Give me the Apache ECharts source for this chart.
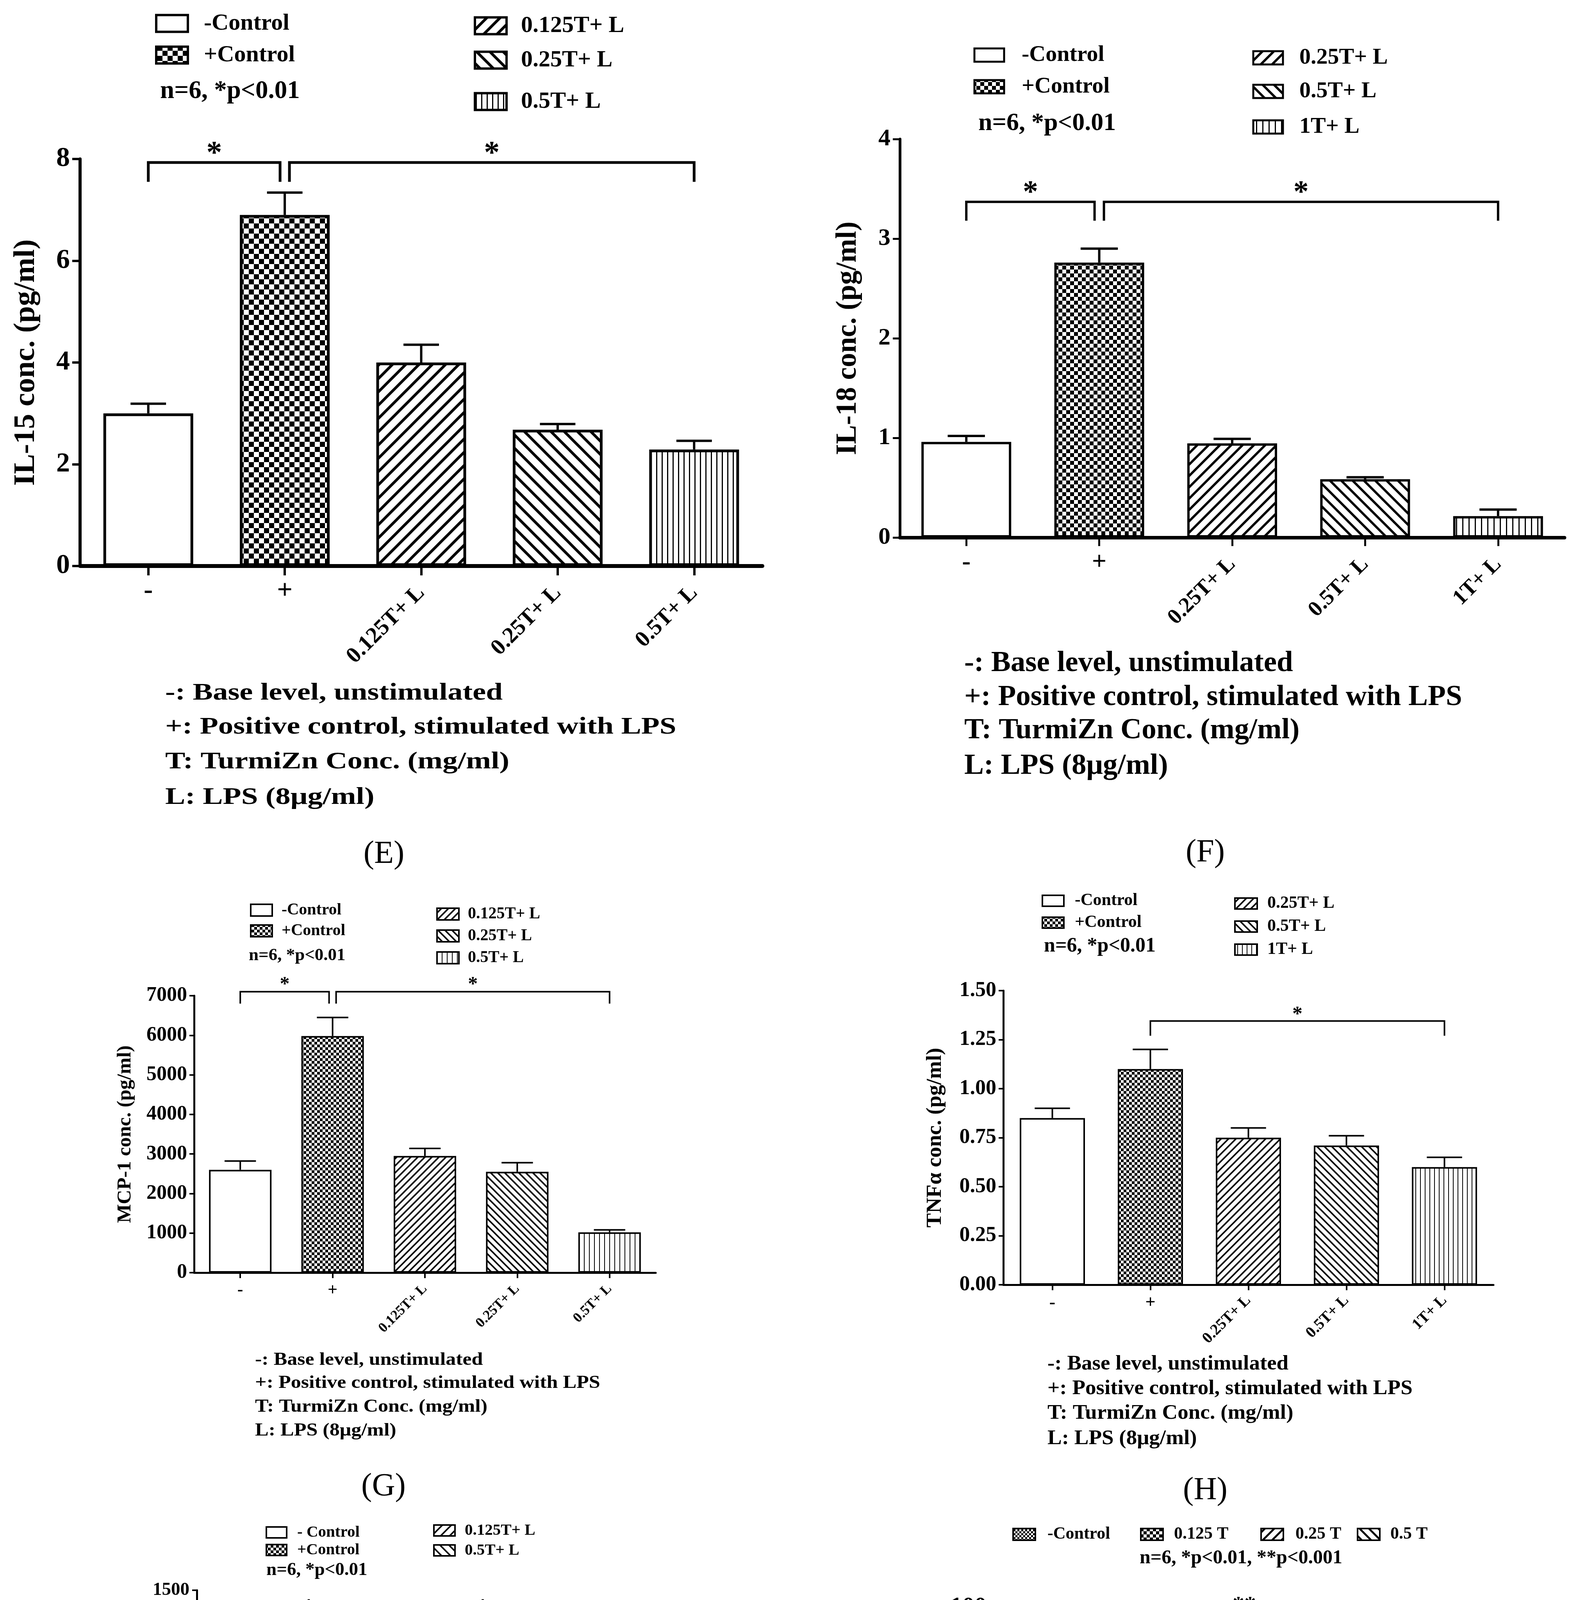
<!DOCTYPE html>
<html><head><meta charset="utf-8">
<script src="https://cdn.jsdelivr.net/npm/echarts@6/dist/echarts.min.js"></script>
<style>html,body{margin:0;padding:0;background:#fff}#c{width:4043px;height:5373px}</style>
</head><body><div id="c"></div>
<script>
// ---------------- DATA ----------------
const catE = ['-', '+', '0.125T+ L', '0.25T+ L', '0.5T+ L'];
const valE = [3.0, 6.9, 4.0, 2.68, 2.29];
const errE = [0.19, 0.44, 0.35, 0.11, 0.17];
const brE = [[0, 1, 7.93, 7.55], [1, 4, 7.93, 7.55]];
const starE = ['*', '*'];
const legE = ['-Control', '+Control', '0.125T+ L', '0.25T+ L', '0.5T+ L'];

const catF = ['-', '+', '0.25T+ L', '0.5T+ L', '1T+ L'];
const valF = [0.96, 2.76, 0.945, 0.585, 0.215];
const errF = [0.06, 0.14, 0.045, 0.02, 0.065];
const brF = [[0, 1, 3.37, 3.18], [1, 4, 3.37, 3.18]];
const starF = ['*', '*'];
const legF = ['-Control', '+Control', '0.25T+ L', '0.5T+ L', '1T+ L'];

const catG = ['-', '+', '0.125T+ L', '0.25T+ L', '0.5T+ L'];
const valG = [2600, 5980, 2950, 2550, 1020];
const errG = [220, 470, 190, 230, 60];
const brG = [[0, 1, 7100, 6800], [1, 4, 7100, 6800]];
const starG = ['*', '*'];
const legG = ['-Control', '+Control', '0.125T+ L', '0.25T+ L', '0.5T+ L'];

const catH = ['-', '+', '0.25T+ L', '0.5T+ L', '1T+ L'];
const valH = [0.85, 1.10, 0.75, 0.71, 0.60];
const errH = [0.05, 0.10, 0.05, 0.05, 0.05];
const brH = [[1, 4, 1.345, 1.27]];
const starH = ['*'];
const legH = ['-Control', '+Control', '0.25T+ L', '0.5T+ L', '1T+ L'];

const catI = ['-', '+', '0.125T+ L', '0.5T+ L'];
const valI = [705, 1155, 345, 168];
const errI = [58, 95, 22, 12];
const brI = [[0, 1, 1369, 1300], [1, 3, 1369, 1300]];
const starI = ['*', '*'];
const legI = ['- Control', '+Control', '0.125T+ L', '0.5T+ L'];

const catJ = ['-', '0.125 T', '0.25 T', '0.5 T'];
const valJ = [0, 36.5, 36.2, 83.3];
const errJ = [0, 2.2, 2.6, 5.7];
const brJ = [[0, 3, 97.7, 93.3], [0, 1, 51.8, 47.4]];
const starJ = ['**', '*'];
const legJ = ['-Control', '0.125 T', '0.25 T', '0.5 T'];

const stat1 = 'n=6, *p<0.01';
const statJ = 'n=6, *p<0.01, **p<0.001';
const notesLPS = ['-: Base level, unstimulated', '+: Positive control, stimulated with LPS', 'T: TurmiZn Conc. (mg/ml)', 'L: LPS (8μg/ml)'];
const notesJ = ['-: Base level, unstimulated', 'T: TurmiZn Conc. (mg/ml)'];
const panelLabels = ['(E)', '(F)', '(G)', '(H)', '(I)', '(J)'];

// ---------------- STYLE HELPERS ----------------
const FONT = '"Liberation Serif", "Times New Roman", serif';
function cv(w, h) { const c = document.createElement('canvas'); c.width = w; c.height = h; const x = c.getContext('2d'); x.fillStyle = '#fff'; x.fillRect(0, 0, w, h); x.fillStyle = '#000'; x.strokeStyle = '#000'; return [c, x]; }
function checker(s) { const [c, x] = cv(2 * s, 2 * s); x.fillRect(0, 0, s, s); x.fillRect(s, s, s, s); return { image: c, repeat: 'repeat' }; }
function diag(s, lw, dir) {
  const [c, x] = cv(s, s); x.lineWidth = lw;
  for (let k = -1; k <= 2; k++) {
    const cc = k * s; x.beginPath();
    if (dir === '/') { x.moveTo(cc - 2 * s, 2 * s); x.lineTo(cc + 2 * s, -2 * s); }
    else { x.moveTo(-2 * s, cc - 2 * s); x.lineTo(3 * s, cc + 3 * s); }
    x.stroke();
  }
  return { image: c, repeat: 'repeat' };
}
function vert(s, lw) { const [c, x] = cv(s, 8); x.fillRect(0, 0, lw, 8); return { image: c, repeat: 'repeat' }; }
function pats(p) { return { white: '#fff', checker: checker(p.ck), diagR: diag(p.ds, p.dw, '/'), diagL: diag(p.ds, p.dw, '\\'), vert: vert(p.vs, p.vw), checkerS: checker(5) }; }

const panels = [
  { cats: catE, vals: valE, errs: errE, br: brE, stars: starE, leg: legE, notes: notesLPS, keys: ['white', 'checker', 'diagR', 'diagL', 'vert'],
    ymax: 8, iv: 2, dec: 0, title: 'IL-15 conc. (pg/ml)',
    grid: { left: 205, top: 407, width: 1747, height: 1042 }, barW: 230, axW: 10, yAxW: 8, tl: 24, ytl: 20, tw: 6,
    fTick: 70, fTitle: 77, fXl: 58, fPm: 70, fStar: 80, fLeg: 60, fStat: 65, fNote: 77, nSY: 0.8, gap: 99, ym: 26, xm1: 30, xm2: 60,
    cap: 0.26, ew: 6, bw: 7, sOff: 38, bGap: 12, p: { ck: 13, ds: 34, dw: 7, vs: 14, vw: 3 },
    legend: { c1x: 400, c1w: 81, c2x: 1216, c2w: 81, h: 43, y1: [60, 141], y2: [66, 154, 260], t1: 522, t2: 1334, sx: 410, sy: 234, lw: 6 },
    note: { x: 423, y: [1775, 1862, 1951, 2042] }, lab: [983, 2187] },
  { cats: catF, vals: valF, errs: errF, br: brF, stars: starF, leg: legF, notes: notesLPS, keys: ['white', 'checker', 'diagR', 'diagL', 'vert'],
    ymax: 4, iv: 1, dec: 0, title: 'IL-18 conc. (pg/ml)',
    grid: { left: 2304, top: 356, width: 1702, height: 1020 }, barW: 230, axW: 9, yAxW: 7, tl: 22, ytl: 18, tw: 5,
    fTick: 62, fTitle: 73, fXl: 56, fPm: 66, fStar: 78, fLeg: 58, fStat: 64, fNote: 75, nSY: 1, gap: 95, ym: 24, xm1: 32, xm2: 60,
    cap: 0.28, ew: 6, bw: 6, sOff: 39, bGap: 12, p: { ck: 10, ds: 29, dw: 6, vs: 16, vw: 3 },
    legend: { c1x: 2495, c1w: 76, c2x: 3209, c2w: 76, h: 34, y1: [141, 222], y2: [148, 234, 325], t1: 2616, t2: 3327, sx: 2505, sy: 316, lw: 5 },
    note: { x: 2469, y: [1699, 1786, 1871, 1962] }, lab: [3086, 2183] },
  { cats: catG, vals: valG, errs: errG, br: brG, stars: starG, leg: legG, notes: notesLPS, keys: ['white', 'checker', 'diagR', 'diagL', 'vert'],
    ymax: 7000, iv: 1000, dec: 0, title: 'MCP-1 conc. (pg/ml)',
    grid: { left: 497, top: 2549, width: 1182, height: 709 }, barW: 160, axW: 5, yAxW: 5, tl: 14, ytl: 12, tw: 4,
    fTick: 52, fTitle: 51, fXl: 36, fPm: 44, fStar: 50, fLeg: 42, fStat: 45, fNote: 52, nSY: 0.9, gap: 151, ym: 18, xm1: 24, xm2: 36,
    cap: 0.34, ew: 4, bw: 4, sOff: 29, bGap: 9, p: { ck: 7, ds: 18, dw: 4, vs: 13, vw: 2 },
    legend: { c1x: 642, c1w: 55, c2x: 1119, c2w: 56, h: 30, y1: [2330, 2383], y2: [2340, 2396, 2452], t1: 721, t2: 1198, sx: 637, sy: 2446, lw: 4 },
    note: { x: 653, y: [3482, 3541, 3602, 3663] }, lab: [982, 3806] },
  { cats: catH, vals: valH, errs: errH, br: brH, stars: starH, leg: legH, notes: notesLPS, keys: ['white', 'checker', 'diagR', 'diagL', 'vert'],
    ymax: 1.5, iv: 0.25, dec: 2, title: 'TNFα conc. (pg/ml)',
    grid: { left: 2569, top: 2536, width: 1255, height: 753 }, barW: 167, axW: 5, yAxW: 5, tl: 14, ytl: 12, tw: 4,
    fTick: 54, fTitle: 55, fXl: 40, fPm: 46, fStar: 52, fLeg: 44, fStat: 52, fNote: 55, nSY: 0.95, gap: 147, ym: 18, xm1: 24, xm2: 34,
    cap: 0.36, ew: 4, bw: 4, sOff: 27, bGap: 9, p: { ck: 7, ds: 19, dw: 4, vs: 12, vw: 2 },
    legend: { c1x: 2669, c1w: 55, c2x: 3162, c2w: 57, h: 28, y1: [2306, 2362], y2: [2313, 2372, 2431], t1: 2752, t2: 3245, sx: 2673, sy: 2423, lw: 4 },
    note: { x: 2682, y: [3493, 3556, 3619, 3684] }, lab: [3086, 3816] },
  { cats: catI, vals: valI, errs: errI, br: brI, stars: starI, leg: legI, notes: notesLPS, keys: ['white', 'checker', 'diagR', 'diagL'],
    ymax: 1500, iv: 300, dec: 0, title: 'KC-like protein conc. (pg/ml)',
    grid: { left: 504, top: 4071, width: 1164, height: 700 }, barW: 196, axW: 5, yAxW: 5, tl: 14, ytl: 12, tw: 4,
    fTick: 47, fTitle: 50, fXl: 38, fPm: 44, fStar: 52, fLeg: 41, fStat: 47, fNote: 51, nSY: 0.95, gap: 143, ym: 19, xm1: 24, xm2: 40,
    cap: 0.33, ew: 4, bw: 4, sOff: 28, bGap: 9, p: { ck: 7, ds: 23, dw: 4, vs: 12, vw: 2 },
    legend: { c1x: 682, c1w: 52, c2x: 1111, c2w: 54, h: 28, y1: [3923, 3968], y2: [3918, 3969], t1: 761, t2: 1190, sx: 682, sy: 4020, lw: 4 },
    note: { x: 634, y: [4984, 5043, 5103, 5166] }, lab: [983, 5292] },
  { cats: catJ, vals: valJ, errs: errJ, br: brJ, stars: starJ, leg: legJ, notes: notesJ, keys: ['white', 'checker', 'diagR', 'diagL'],
    ymax: 100, iv: 20, dec: 0, title: 'GM-CSF conc. (pg/ml)',
    grid: { left: 2546, top: 4114, width: 1280, height: 772 }, barW: 213, axW: 6, yAxW: 6, tl: 16, ytl: 14, tw: 4,
    fTick: 62, fTitle: 56, fXl: 40, fPm: 56, fStar: 60, fLeg: 44, fStat: 50, fNote: 56, nSY: 0.95, gap: 134, ym: 20, xm1: 30, xm2: 42,
    cap: 0.28, ew: 5, bw: 5, sOff: 33, bGap: 0, p: { ck: 8, ds: 24, dw: 5, vs: 12, vw: 2 },
    legendRow: { x: [2594, 2921, 3229, 3476], w: 57, h: 30, y: 3928, tx: [2682, 3006, 3317, 3560], sx: 2918, sy: 3989, lw: 4,
      keys: ['checkerS', 'checker', 'diagR', 'diagL'] },
    note: { x: 2904, y: [5095, 5161] }, lab: [3086, 5294] }
];

// ---------------- BUILD OPTION ----------------
const grids = [], xAxes = [], yAxes = [], series = [], graphic = [];
const isPM = v => v === '-' || v === '+';

panels.forEach((P, i) => {
  const pt = pats(P.p);
  grids.push(Object.assign({ containLabel: false, outerBoundsMode: 'none' }, P.grid));
  const baseX = { type: 'category', gridIndex: i, data: P.cats, position: 'bottom', boundaryGap: true, splitLine: { show: false } };
  xAxes.push(Object.assign({}, baseX, {
    axisLine: { show: true, onZero: false, lineStyle: { color: '#000', width: P.axW } },
    axisTick: { show: true, alignWithLabel: true, length: P.tl, lineStyle: { color: '#000', width: P.tw } },
    axisLabel: { interval: 0, margin: P.xm1, color: '#000', fontFamily: FONT, fontWeight: 'bold', fontSize: P.fPm,
      formatter: v => isPM(v) ? v : '' }
  }));
  xAxes.push(Object.assign({}, baseX, {
    axisLine: { show: false }, axisTick: { show: false },
    axisLabel: { interval: 0, rotate: 45, margin: P.xm2, color: '#000', fontFamily: FONT, fontWeight: 'bold', fontSize: P.fXl,
      formatter: v => isPM(v) ? '' : v }
  }));
  yAxes.push({
    type: 'value', gridIndex: i, min: 0, max: P.ymax, interval: P.iv,
    name: P.title, nameLocation: 'middle', nameRotate: 90, nameGap: P.gap,
    nameTextStyle: { color: '#000', fontFamily: FONT, fontWeight: 'bold', fontSize: P.fTitle },
    axisLine: { show: true, lineStyle: { color: '#000', width: P.yAxW } },
    axisTick: { show: true, length: P.ytl, lineStyle: { color: '#000', width: P.tw } },
    axisLabel: { margin: P.ym, color: '#000', fontFamily: FONT, fontWeight: 'bold', fontSize: P.fTick,
      formatter: v => Number(v).toFixed(P.dec) },
    splitLine: { show: false }
  });
  series.push({
    type: 'bar', xAxisIndex: 2 * i, yAxisIndex: i, barWidth: P.barW, silent: true, animation: false,
    data: P.vals.map((v, k) => ({ value: v, itemStyle: { color: pt[P.keys[k]], borderColor: '#000', borderWidth: P.bw } }))
  });
  series.push({
    type: 'custom', xAxisIndex: 2 * i, yAxisIndex: i, silent: true, animation: false, clip: false, z: 3,
    data: P.vals.map((v, k) => [k, v, P.errs[k]]),
    encode: { x: 0, y: 1 },
    renderItem: (params, api) => {
      const k = api.value(0), v = api.value(1), e = api.value(2);
      if (!e) return { type: 'group', children: [] };
      const b = api.coord([k, v]), t = api.coord([k, v + e]);
      const cw = api.size([1, 0])[0] * P.cap;
      const st = { stroke: '#000', lineWidth: P.ew };
      return { type: 'group', children: [
        { type: 'line', shape: { x1: b[0], y1: b[1], x2: t[0], y2: t[1] }, style: st },
        { type: 'line', shape: { x1: t[0] - cw / 2, y1: t[1], x2: t[0] + cw / 2, y2: t[1] }, style: st }
      ] };
    }
  });
  series.push({
    type: 'custom', xAxisIndex: 2 * i, yAxisIndex: i, silent: true, animation: false, clip: false, z: 4,
    data: P.br.map(b => b.slice()),
    encode: { x: [0, 1], y: [2, 3] },
    renderItem: (params, api) => {
      const idx = params.dataIndex;
      const a = api.value(0), bb = api.value(1), yt = api.value(2), yb = api.value(3);
      const pa = api.coord([a, yt]), pb = api.coord([bb, yt]), ybot = api.coord([a, yb])[1];
      let x1 = pa[0], x2 = pb[0];
      if (P.br.some((o, j) => j !== idx && o[1] === a && o[0] !== a)) x1 += P.bGap;
      if (P.br.some((o, j) => j !== idx && o[0] === bb && o[1] !== bb)) x2 -= P.bGap;
      const st = { stroke: '#000', lineWidth: P.bw, fill: null, lineJoin: 'miter' };
      return { type: 'group', children: [
        { type: 'polyline', shape: { points: [[x1, ybot], [x1, pa[1]], [x2, pa[1]], [x2, ybot]] }, style: st },
        { type: 'text', x: (x1 + x2) / 2, y: pa[1] - P.sOff + P.fStar * 0.22,
          style: { text: P.stars[idx], fill: '#000', fontFamily: FONT, fontWeight: 'bold', fontSize: P.fStar,
            align: 'center', verticalAlign: 'middle', textAlign: 'center', textVerticalAlign: 'middle' } }
      ] };
    }
  });

  const txt = (x, y, s, fs, bold, align, sy) => ({ type: 'text', x: x, y: y, silent: true, scaleY: sy || 1,
    style: { text: s, fill: '#000', fontFamily: FONT, fontWeight: bold ? 'bold' : 'normal', fontSize: fs,
      align: align || 'left', verticalAlign: 'middle', textAlign: align || 'left', textVerticalAlign: 'middle' } });
  const box = (x, y, w, h, fill, lw) => ({ type: 'rect', silent: true, shape: { x: x, y: y - h / 2, width: w, height: h },
    style: { fill: fill, stroke: '#000', lineWidth: lw } });
  if (P.legend) {
    const L = P.legend;
    L.y1.forEach((y, k) => { graphic.push(box(L.c1x, y, L.c1w, L.h, pt[P.keys[k]], L.lw)); graphic.push(txt(L.t1, y, P.leg[k], P.fLeg, true)); });
    L.y2.forEach((y, k) => { graphic.push(box(L.c2x, y, L.c2w, L.h, pt[P.keys[k + 2]], L.lw)); graphic.push(txt(L.t2, y, P.leg[k + 2], P.fLeg, true)); });
    graphic.push(txt(L.sx, L.sy, stat1, P.fStat, true));
  } else {
    const L = P.legendRow;
    L.x.forEach((x, k) => { graphic.push(box(x, L.y, L.w, L.h, pt[L.keys[k]], L.lw)); graphic.push(txt(L.tx[k], L.y, P.leg[k], P.fLeg, true)); });
    graphic.push(txt(L.sx, L.sy, statJ, P.fStat, true));
  }
  P.notes.forEach((s, k) => graphic.push(txt(P.note.x, P.note.y[k], s, P.fNote, true, 'left', P.nSY)));
  graphic.push(txt(P.lab[0], P.lab[1], panelLabels[i], 82, false, 'center'));
});

const chart = echarts.init(document.getElementById('c'), null, { renderer: 'canvas', devicePixelRatio: 1 });
chart.setOption({
  backgroundColor: '#fff', animation: false,
  grid: grids, xAxis: xAxes, yAxis: yAxes, series: series, graphic: graphic
});
</script></body></html>
